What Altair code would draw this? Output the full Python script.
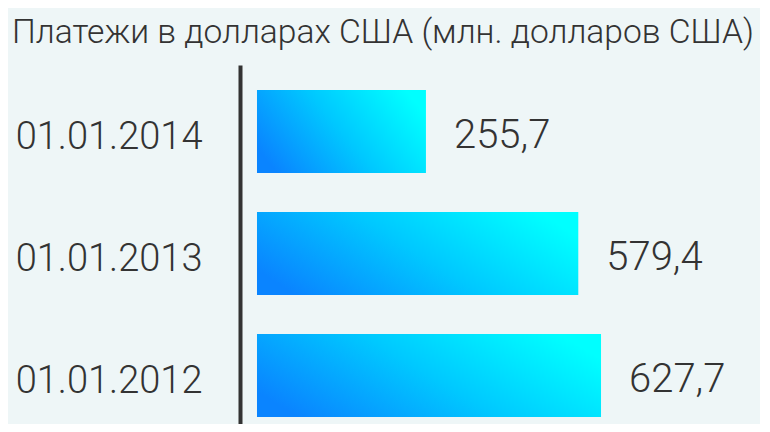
import altair as alt
import pandas as pd

title_text = "Платежи в долларах США (млн. долларов США)"
dates = ["01.01.2014", "01.01.2013", "01.01.2012"]
values = [255.7, 579.4, 627.7]
labels = [f"{v:.1f}".replace(".", ",") for v in values]

df = pd.DataFrame({"date": dates, "value": values, "label": labels})

FONT = "Roboto"
TEXT = "#333333"
BG = "#eef6f7"
BASE = -103.3

x_scale = alt.Scale(domain=[-139.4, 923], range=[0, 500], nice=False, zero=False)
y_scale = alt.Scale(paddingInner=0.32, paddingOuter=0.1314, align=0.78)

gradient = alt.Gradient(
    gradient="linear",
    stops=[
        alt.GradientStop(color="#0a84ff", offset=0),
        alt.GradientStop(color="#00c8ff", offset=0.5),
        alt.GradientStop(color="#00ffff", offset=1),
    ],
    x1=0, y1=0.7, x2=1, y2=0.3,
)

base = alt.Chart(df)

bars = base.mark_bar(color=gradient).encode(
    y=alt.Y("date:N", sort=dates, scale=y_scale, title=None,
            axis=alt.Axis(domainColor=TEXT, domainWidth=4, ticks=False, grid=False,
                          labelFontSize=38, labelColor=TEXT, labelFont=FONT,
                          labelFontWeight=300, labelPadding=38, labelOffset=7,
                          labelLimit=0)),
    x=alt.X("value:Q", scale=x_scale, axis=None),
    x2=alt.datum(BASE),
)

text = base.mark_text(align="left", baseline="middle", dx=28, dy=5,
                      fontSize=40, font=FONT, fontWeight=300, color=TEXT).encode(
    y=alt.Y("date:N", sort=dates, scale=y_scale),
    x=alt.X("value:Q", scale=x_scale),
    text="label:N",
)

chart = (bars + text).properties(
    width=500,
    height=359,
    background=BG,
    padding={"left": 232, "top": 57, "right": 20, "bottom": 0},
    autosize=alt.AutoSizeParams(type="none"),
    title=alt.TitleParams(title_text, anchor="start", frame="group", dx=-228,
                          dy=34, offset=22, baseline="alphabetic", fontSize=33.6,
                          font=FONT, fontWeight=300, color=TEXT),
).configure_view(strokeWidth=0, stroke="transparent")

chart.save("out.html", embed_options={"renderer": "svg", "actions": False})
